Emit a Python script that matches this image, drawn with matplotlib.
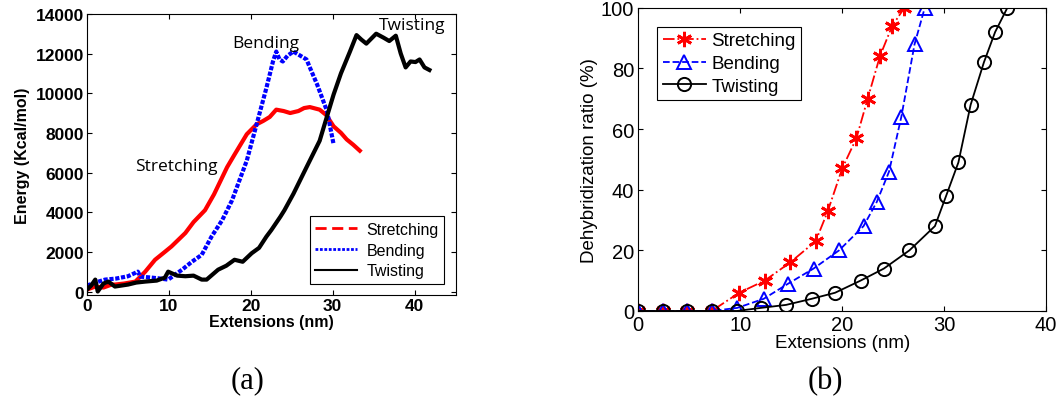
import matplotlib.pyplot as plt
from matplotlib.lines import Line2D

# (a) energy vs extension
stretch_x = [0, 1, 2, 3, 3.4, 4.5, 5.9, 6.5, 7.1, 8.3, 9.5, 10.3, 12, 13, 14.4, 15.5, 17.1, 18, 19.5, 20.7,
             21.5, 22.3, 23.1, 24, 24.8, 25.8, 26.5, 27.2, 28.4, 29.2, 30.1, 31, 31.7, 32.5, 33.3]
stretch_y = [100, 250, 200, 350, 350, 400, 500, 750, 1000, 1600, 2000, 2270, 2950, 3500, 4100, 4900, 6270, 6900, 7930, 8430,
             8600, 8800, 9170, 9100, 9000, 9100, 9250, 9300, 9170, 8900, 8330, 8000, 7670, 7400, 7100]

bend_x = [0, 1, 2.2, 3.5, 5, 6.2, 6.5, 7.9, 9, 9.9, 11.6, 12.8, 14, 15.2, 16.5, 17.7, 18.6, 19.5, 20.7, 21.9,
          22.7, 23.1, 23.5, 23.9, 24.5, 25.2, 26, 26.8, 27.2, 28.1, 29.3, 30.1]
bend_y = [300, 450, 600, 650, 770, 1000, 750, 700, 650, 600, 1100, 1500, 1850, 2770, 3600, 4600, 5600, 6600, 8430, 10270,
          11600, 12100, 11700, 11600, 11900, 12100, 11900, 11700, 11300, 10430, 9100, 7430]

twist_x = [0, 0.5, 1, 1.3, 2, 2.6, 3.4, 5, 6, 7.1, 8.5, 9.5, 9.9, 11, 12, 13, 14, 14.6, 16, 17, 18, 19, 20.1, 21, 21.9,
           22.5, 23.6, 24.1, 25.2, 26.8, 28.4, 29.2, 30.1, 31, 32.1, 32.9, 33.5, 34.1, 35.3, 36.2, 36.9, 37.7,
           38.3, 38.9, 39.5, 40.1, 40.6, 41.2, 41.8]
twist_y = [100, 300, 600, 0, 400, 500, 250, 350, 450, 500, 550, 700, 1000, 800, 770, 800, 600, 600, 1100, 1300, 1600, 1500,
           1930, 2200, 2770, 3100, 3770, 4100, 4930, 6270, 7600, 8700, 9930, 11000, 12100, 12930, 12700, 12500, 13000,
           12800, 12630, 12900, 12000, 11300, 11600, 11570, 11700, 11300, 11170]

# (b) dehybridization ratio vs extension
s_x = [0, 2.4, 4.8, 7.2, 9.9, 12.4, 14.9, 17.4, 18.6, 20.0, 21.4, 22.5, 23.7, 24.9, 26.1]
s_y = [0, 0, 0, 0, 6, 10, 16, 23, 33, 47, 57, 70, 84, 94, 100]
b_x = [0, 2.4, 4.8, 7.2, 9.7, 12.3, 14.7, 17.2, 19.7, 22.1, 23.4, 24.6, 25.8, 27.1, 28.1]
b_y = [0, 0, 0, 0, 1, 4, 9, 14, 20, 28, 36, 46, 64, 88, 100]
t_x = [0, 2.4, 4.8, 7.2, 9.7, 12.0, 14.5, 17.0, 19.3, 21.8, 24.1, 26.6, 29.1, 30.2, 31.4, 32.6, 33.9, 35.0, 36.2]
t_y = [0, 0, 0, 0, 0, 1, 2, 4, 6, 10, 14, 20, 28, 38, 49, 68, 82, 92, 100]

fig = plt.figure(figsize=(10.62, 4.02), dpi=100)

# --- panel (a)
ax1 = fig.add_axes([0.082, 0.264, 0.347, 0.699])
ax1.plot(stretch_x, stretch_y, color='red', lw=3)
ax1.plot(bend_x, bend_y, color='blue', lw=3, ls=(0, (1, 0.4)))
ax1.plot(twist_x, twist_y, color='black', lw=3)
ax1.set_xlim(0, 45)
ax1.set_ylim(-170, 14000)
ax1.set_xticks([0, 10, 20, 30, 40])
ax1.set_yticks(range(0, 14001, 2000))
ax1.tick_params(direction='in', top=True, right=True, labelsize=12.5, pad=2)
for lab in ax1.get_xticklabels() + ax1.get_yticklabels():
    lab.set_fontweight('bold')
    lab.set_family('Liberation Sans')
ax1.set_xlabel('Extensions (nm)', fontsize=11.5, fontweight='bold', family='Liberation Sans', labelpad=1)
ax1.set_ylabel('Energy (Kcal/mol)', fontsize=11.5, fontweight='bold', family='Liberation Sans', labelpad=4)
ax1.text(5.9, 6350, 'Stretching', fontsize=12.5, family='Open Sans', va='center')
ax1.text(17.7, 12550, 'Bending', fontsize=12.5, family='Open Sans', va='center')
ax1.text(35.6, 13450, 'Twisting', fontsize=12.5, family='Open Sans', va='center')
handles = [Line2D([], [], color='red', lw=2, ls=(0, (4, 2))),
           Line2D([], [], color='blue', lw=2, ls=(0, (1, 0.6))),
           Line2D([], [], color='black', lw=1.5)]
leg1 = ax1.legend(handles, ['Stretching', 'Bending', 'Twisting'], loc='lower right',
                  prop={'family': 'Liberation Sans', 'size': 11.5}, fancybox=False, edgecolor='black',
                  framealpha=1, handlelength=2.6, handletextpad=0.6, borderpad=0.35, labelspacing=0.35,
                  borderaxespad=0.7)
leg1.get_frame().set_linewidth(0.8)

# --- panel (b)
ax2 = fig.add_axes([0.601, 0.224, 0.384, 0.754])
ax2.plot(s_x, s_y, color='red', ls='-.', lw=1.3, marker=(6, 2, 0), ms=11, mew=2, label='Stretching')
ax2.plot(b_x, b_y, color='blue', ls='--', lw=1.3, marker='^', ms=9.5, mfc='none', mew=1.4, label='Bending')
ax2.plot(t_x, t_y, color='black', ls='-', lw=1.3, marker='o', ms=9.5, mfc='none', mew=1.4, label='Twisting')
ax2.set_xlim(0, 40)
ax2.set_ylim(0, 100)
ax2.set_xticks([0, 10, 20, 30, 40])
ax2.set_yticks(range(0, 101, 20))
ax2.tick_params(direction='in', top=True, right=True, labelsize=14.5, pad=3)
for lab in ax2.get_xticklabels() + ax2.get_yticklabels():
    lab.set_family('Liberation Sans')
ax2.set_xlabel('Extensions (nm)', fontsize=13.5, family='Liberation Sans', labelpad=0)
ax2.set_ylabel('Dehybridization ratio (%)', fontsize=13.5, family='Liberation Sans', labelpad=2)
leg2 = ax2.legend(loc='upper left', prop={'family': 'Liberation Sans', 'size': 13.5}, fancybox=False,
                  edgecolor='black', framealpha=1, handlelength=2.3, handletextpad=0.3, borderpad=0.3,
                  labelspacing=0.3, borderaxespad=1.0)
leg2.get_frame().set_linewidth(0.8)

fig.text(0.233, 0.052, '(a)', fontsize=22, family='Liberation Serif', ha='center', va='center')
fig.text(0.777, 0.052, '(b)', fontsize=22, family='Liberation Serif', ha='center', va='center')

fig.savefig('out.png', dpi=100)
